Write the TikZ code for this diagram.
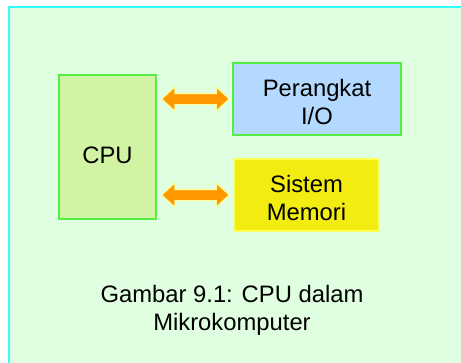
\documentclass[tikz,border=0pt]{standalone}
\usepackage{fontspec}
\setmainfont{Liberation Sans}
\usetikzlibrary{calc}
\definecolor{panelfill}{HTML}{E0FFE0}
\definecolor{panelline}{HTML}{33FFFF}
\definecolor{cpufill}{HTML}{D0F4A4}
\definecolor{boxline}{HTML}{55EE44}
\definecolor{iofill}{HTML}{B3D9FF}
\definecolor{memfill}{HTML}{F2EC10}
\definecolor{memline}{HTML}{FFFF55}
\definecolor{busorange}{HTML}{FF9900}
\definecolor{busedge}{HTML}{FFFF99}
\tikzset{
  unitbox/.style={draw=boxline, line width=1.5pt, inner sep=0pt},
  lbl/.style={anchor=base, inner sep=0pt, font=\fontsize{23.8}{27.3}\selectfont},
  busfill/.style={fill=busorange, draw=busedge, line width=1pt, line join=miter},
}
% horizontal double-headed bus arrow between two points
\newcommand\busarrow[2]{%
  \path[busfill] let \p1=(#1), \p2=(#2) in
    (\x1,\y1) -- (\x1+13pt,\y1+12pt) -- (\x1+13pt,\y1+5.5pt) -- (\x2-13pt,\y1+5.5pt)
    -- (\x2-13pt,\y1+12pt) -- (\x2,\y1) -- (\x2-13pt,\y1-12pt) -- (\x2-13pt,\y1-5.5pt)
    -- (\x1+13pt,\y1-5.5pt) -- (\x1+13pt,\y1-12pt) -- cycle;}
\begin{document}
\begin{tikzpicture}[x=1pt, y=-1pt]
  \useasboundingbox (0,0) rectangle (461,362);
  \fill[white] (0,0) rectangle (461,362);
  % panel
  \draw[fill=panelfill, draw=panelline, line width=2pt] (9,7) rectangle (480,380);
  % blocks
  \node[unitbox, fill=cpufill, minimum width=97pt, minimum height=144pt] (cpu) at (107.5,147) {};
  \node[unitbox, fill=iofill, minimum width=168pt, minimum height=72pt] (io) at (317,99) {};
  \node[unitbox, draw=memline, fill=memfill, minimum width=145pt, minimum height=72pt] (mem) at (306.5,195) {};
  % labels
  \node[lbl] (cputxt) at (107.5,163.3) {CPU};
  \node[lbl] (iotxt1) at (317,96.7) {Perangkat};
  \node[lbl] (iotxt2) at (317,124) {I/O};
  \node[lbl] (memtxt1) at (306.5,192.7) {Sistem};
  \node[lbl] (memtxt2) at (306.5,220) {Memori};
  \node[lbl] (cap1) at (232,302.7) {Gambar 9.1: CPU dalam};
  \node[lbl] (cap2) at (232,330) {Mikrokomputer};
  % buses
  \coordinate (busa1) at ($(cpu.east |- io.west)+(5,0)$);
  \coordinate (busa2) at ($(io.west)+(-3,0)$);
  \coordinate (busb1) at ($(cpu.east |- mem.west)+(5,0)$);
  \coordinate (busb2) at ($(mem.west)+(-4,0)$);
  \busarrow{busa1}{busa2}
  \busarrow{busb1}{busb2}
\end{tikzpicture}
\end{document}
